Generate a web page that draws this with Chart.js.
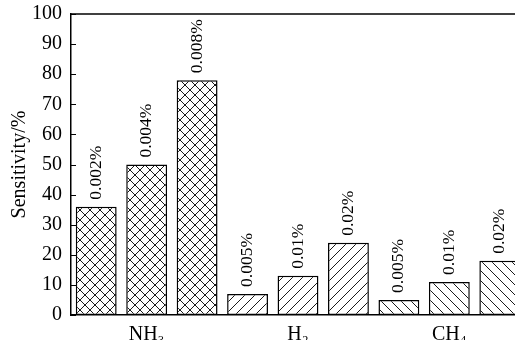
<!DOCTYPE html>
<html>
<head>
<meta charset="utf-8">
<script src="https://cdn.jsdelivr.net/npm/chart.js@4.4.0/dist/chart.umd.min.js"></script>
<style>
  html, body { margin: 0; padding: 0; background: #fff; overflow: hidden; width: 515px; height: 340px; }
  canvas { display: block; }
</style>
</head>
<body>
<canvas id="c" width="525" height="352"></canvas>
<script>
const categories = ['NH\u2083', 'H\u2082', 'CH\u2084'];
const series1 = [36, 7, 5];
const series2 = [50, 13, 11];
const series3 = [78, 24, 18];
const conc1 = ['0.002%', '0.005%', '0.005%'];
const conc2 = ['0.004%', '0.01%', '0.01%'];
const conc3 = ['0.008%', '0.02%', '0.02%'];
const yTicks = [0, 10, 20, 30, 40, 50, 60, 70, 80, 90, 100];

const FONT = '"Liberation Serif", "Times New Roman", serif';

function makePattern(kind) {
  const s = 10;
  const c = document.createElement('canvas');
  c.width = s; c.height = s;
  const g = c.getContext('2d');
  g.fillStyle = '#fff';
  g.fillRect(0, 0, s, s);
  g.strokeStyle = '#000';
  g.lineWidth = 0.9;
  g.beginPath();
  if (kind === 'cross' || kind === 'back') {
    g.moveTo(-1, -1); g.lineTo(s + 1, s + 1);
  }
  if (kind === 'cross' || kind === 'fwd') {
    g.moveTo(-1, s + 1); g.lineTo(s + 1, -1);
  }
  g.stroke();
  return g.createPattern(c, 'repeat');
}
const pats = [makePattern('cross'), makePattern('fwd'), makePattern('back')];

const frame = {
  id: 'frame',
  afterDraw(chart) {
    const { ctx, chartArea } = chart;
    const y = chart.scales.y;
    ctx.save();
    ctx.strokeStyle = '#000';
    ctx.lineWidth = 1.5;
    ctx.beginPath();
    ctx.moveTo(chartArea.left, chartArea.top);
    ctx.lineTo(chartArea.right + 5, chartArea.top);
    ctx.stroke();
    ctx.lineWidth = 1;
    yTicks.forEach(v => {
      const py = Math.round(y.getPixelForValue(v)) + 0.5;
      ctx.beginPath();
      ctx.moveTo(chartArea.left, py);
      ctx.lineTo(chartArea.left + 5, py);
      ctx.stroke();
    });
    // bar labels
    ctx.fillStyle = '#000';
    ctx.font = '17.5px ' + FONT;
    ctx.textAlign = 'left';
    ctx.textBaseline = 'middle';
    chart.data.datasets.forEach((ds, di) => {
      const meta = chart.getDatasetMeta(di);
      meta.data.forEach((bar, i) => {
        ctx.save();
        ctx.translate(bar.x, bar.y - 7);
        ctx.rotate(-Math.PI / 2);
        ctx.fillText(ds.concLabels[i], 0, 0);
        ctx.restore();
      });
    });
    ctx.restore();
  }
};

function ds(data, labels) {
  return {
    data: data,
    concLabels: labels,
    backgroundColor: pats,
    borderColor: '#000',
    borderWidth: 1.5,
    borderSkipped: false,
    barPercentage: 0.81,
    categoryPercentage: 1.0
  };
}

new Chart(document.getElementById('c'), {
  type: 'bar',
  data: {
    labels: categories,
    datasets: [ds(series1, conc1), ds(series2, conc2), ds(series3, conc3)]
  },
  options: {
    responsive: false,
    animation: false,
    devicePixelRatio: 1,
    layout: { padding: { left: 8, right: 0, top: 14, bottom: 0 } },
    plugins: { legend: { display: false }, tooltip: { enabled: false } },
    scales: {
      x: {
        grid: { display: false, drawTicks: false },
        border: { display: true, color: '#000', width: 1.5 },
        ticks: { color: '#000', font: { family: FONT, size: 20 }, padding: 8, maxRotation: 0 },
        afterFit(scale) { scale.height = 37; scale.paddingLeft = 0; scale.paddingRight = 0; }
      },
      y: {
        min: 0, max: 100,
        afterBuildTicks(scale) { scale.ticks = yTicks.map(v => ({ value: v })); },
        afterFit(scale) { scale.width = 63; scale.paddingTop = 0; scale.paddingBottom = 0; },
        grid: { display: false, drawTicks: false },
        border: { display: true, color: '#000', width: 1.5 },
        ticks: { color: '#000', font: { family: FONT, size: 20 }, padding: 9 },
        title: { display: true, text: 'Sensitivity/%', color: '#000', font: { family: FONT, size: 20 }, padding: { top: 0, bottom: 0 } }
      }
    }
  },
  plugins: [frame]
});
</script>
</body>
</html>
